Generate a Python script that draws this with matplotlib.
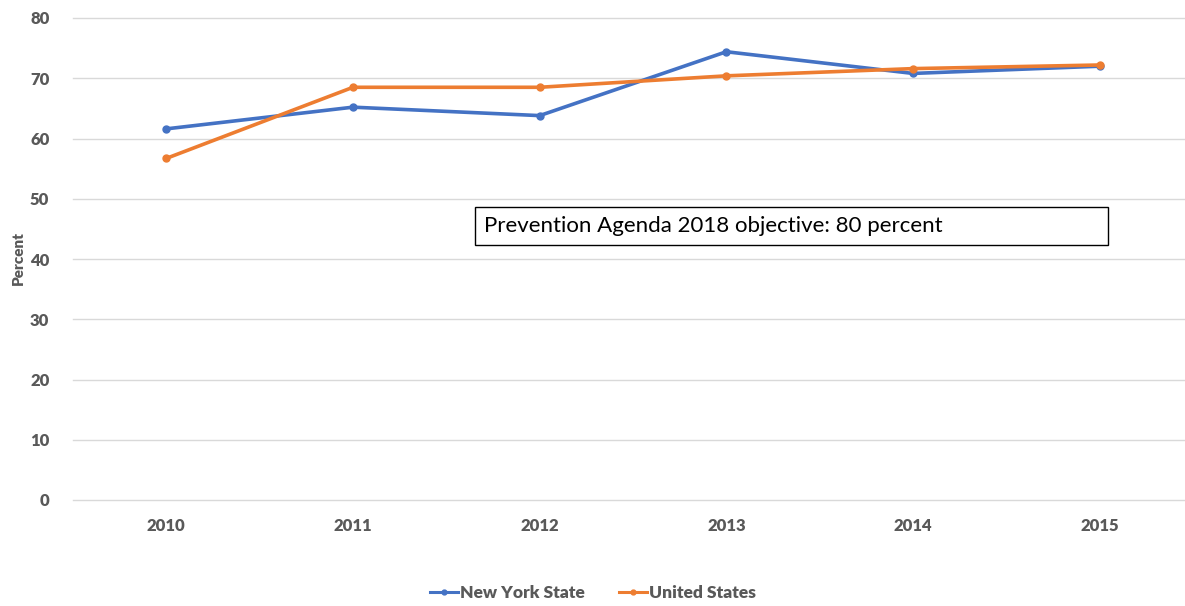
import matplotlib
matplotlib.use("Agg")
import matplotlib.pyplot as plt
from matplotlib.patches import Rectangle

years = ["2010", "2011", "2012", "2013", "2014", "2015"]
nys = [61.6, 65.2, 63.8, 74.4, 70.8, 72.0]
us = [56.7, 68.5, 68.5, 70.4, 71.6, 72.2]
yticks = [0, 10, 20, 30, 40, 50, 60, 70, 80]

W, H = 1185, 606
fig = plt.figure(figsize=(W/100, H/100), dpi=100)
left, right = 73, 1193
bottom, top = 500, 18
ax = fig.add_axes([left/W, (H-bottom)/H, (right-left)/W, (bottom-top)/H])

x = list(range(len(years)))
gray = "#595959"
ax.plot(x, nys, color="#4472C4", lw=2.6, marker="o", ms=5, label="New York State", zorder=3)
ax.plot(x, us, color="#ED7D31", lw=2.6, marker="o", ms=5, label="United States", zorder=3)

ax.set_xlim(-0.5, len(years) - 0.5)
ax.set_ylim(0, 80)
ax.set_yticks(yticks)
ax.set_xticks(x)
ax.set_xticklabels(years)
ax.grid(axis="y", color="#D9D9D9", lw=1)
for gl in ax.get_ygridlines():
    gl.set_clip_on(False)
ax.set_axisbelow(True)
for s in ax.spines.values():
    s.set_visible(False)
ax.tick_params(axis="both", length=0, labelsize=12, labelcolor=gray)
for lab in ax.get_xticklabels() + ax.get_yticklabels():
    lab.set_fontweight("heavy")
    lab.set_fontfamily("Lato")
ax.tick_params(axis="y", pad=17)
ax.tick_params(axis="x", pad=13)

fig.text(18/W, 1 - 258/H, "Percent", rotation=90, ha="center", va="center",
         fontsize=11, fontweight="heavy", color=gray, family="Lato")

# annotation box
fig.patches.append(Rectangle((475/W, 1 - 245/H), (1108-475)/W, (245-207)/H,
                             transform=fig.transFigure, fill=False, ec="black", lw=1))
fig.text(484/W, 1 - 226/H, "Prevention Agenda 2018 objective: 80 percent",
         ha="left", va="center", fontsize=16, color="black", family="Lato")

leg = fig.legend(loc="center", bbox_to_anchor=(593/W, 1 - 593/H), ncol=2, frameon=False,
                 handlelength=1.6, handletextpad=0.1, columnspacing=2.0,
                 prop={"family": "Lato", "weight": "heavy", "size": 12.5})
for t in leg.get_texts():
    t.set_color(gray)
for h in leg.legend_handles:
    h.set_linewidth(2.2)
    h.set_markersize(3.5)

fig.savefig("out.png", dpi=100)
